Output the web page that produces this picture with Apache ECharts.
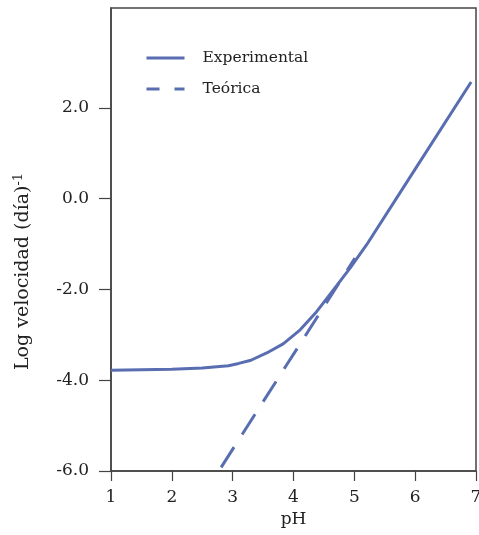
<!DOCTYPE html>
<html>
<head>
<meta charset="utf-8">
<script src="https://cdn.jsdelivr.net/npm/echarts@6/dist/echarts.min.js"></script>
<style>html,body{margin:0;padding:0;background:#fff;}#c{width:479px;height:535px;}</style>
</head>
<body>
<div id="c"></div>
<script>
var experimental = [[1.0,-3.78],[1.5,-3.77],[2.0,-3.76],[2.5,-3.73],[2.93,-3.68],[3.1,-3.63],[3.3,-3.56],[3.56,-3.40],[3.83,-3.20],[4.11,-2.89],[4.38,-2.49],[4.65,-2.02],[4.93,-1.53],[5.2,-1.02],[6.0,0.65],[6.92,2.57]];
var teorica = [[2.81,-5.92],[5.01,-1.31]];
var yTicks = [-6, -4, -2, 0, 2];
var xTicks = [1, 2, 3, 4, 5, 6, 7];
var seriesNames = ['Experimental', 'Teórica'];

var color = '#596db1';
var font = 'DejaVu Serif';
var chart = echarts.init(document.getElementById('c'));
chart.setOption({
  animation: false,
  backgroundColor: '#fff',
  grid: { left: 111, right: 3, top: 8, bottom: 64, outerBoundsMode: 'none', containLabel: false, show: true, borderColor: '#444', borderWidth: 1.5, backgroundColor: 'transparent' },
  legend: {
    orient: 'vertical', left: 140, top: 45, itemWidth: 38, itemHeight: 14, itemGap: 15,
    itemStyle: { opacity: 0 },
    lineStyle: { width: 3 },
    textStyle: { fontFamily: font, fontSize: 15.5, color: '#222', padding: [0,0,0,13] },
    data: [
      { name: seriesNames[0] },
      { name: seriesNames[1], lineStyle: { type: [13, 15], width: 3 } }
    ]
  },
  xAxis: {
    type: 'value', min: xTicks[0], max: xTicks[xTicks.length-1], interval: 1,
    name: 'pH', nameLocation: 'middle', nameGap: 40,
    nameTextStyle: { fontFamily: font, fontSize: 17, color: '#222' },
    axisLine: { show: true, onZero: false, lineStyle: { color: '#444', width: 1.5 } },
    axisTick: { show: true, length: 10, lineStyle: { color: '#444', width: 1.2 } },
    axisLabel: { fontFamily: font, fontSize: 17, color: '#222', margin: 18, showMaxLabel: true, showMinLabel: true },
    splitLine: { show: false }
  },
  yAxis: {
    type: 'value', min: -6, max: 4.2,
    name: '{m|Log velocidad (día)}{s|-1}', nameLocation: 'middle', nameGap: 76, nameRotate: 90,
    nameTextStyle: { fontFamily: font, fontSize: 19, color: '#222', padding: [0, 64, 0, 0],
      rich: { m: { fontFamily: font, fontSize: 19, color: '#222' }, s: { fontFamily: font, fontSize: 13, color: '#222', verticalAlign: 'top', padding: [0,0,10,0] } } },
    axisLine: { show: true, onZero: false, lineStyle: { color: '#444', width: 1.5 } },
    axisTick: { show: true, length: 12, customValues: yTicks, lineStyle: { color: '#444', width: 1.2 } },
    axisLabel: { fontFamily: font, fontSize: 17, color: '#222', margin: 22, customValues: yTicks, formatter: function (v) { return v.toFixed(1); } },
    splitLine: { show: false }
  },
  series: [
    { name: seriesNames[0], type: 'line', data: experimental, symbol: 'none', smooth: false, lineStyle: { color: color, width: 3, join: 'round' }, itemStyle: { color: color } },
    { name: seriesNames[1], type: 'line', data: teorica, symbol: 'none', lineStyle: { color: color, width: 3, type: [24, 15] }, itemStyle: { color: color } }
  ]
});
</script>
</body>
</html>
